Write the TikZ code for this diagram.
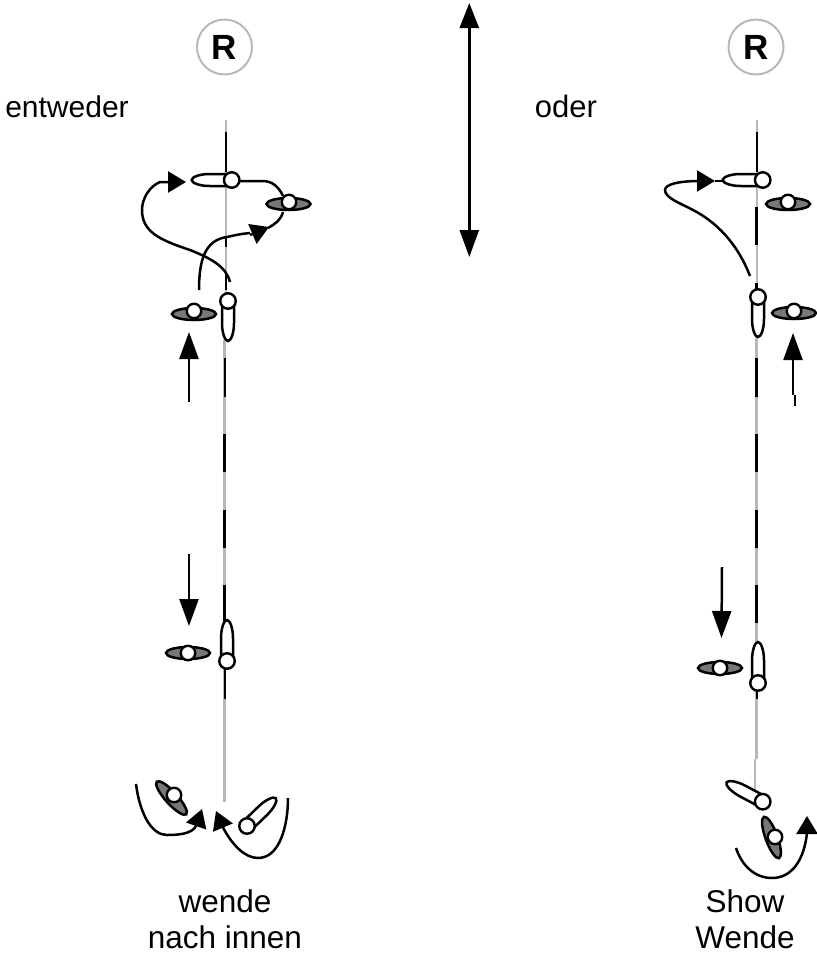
\documentclass[tikz,border=0pt]{standalone}
\usepackage{fontspec}
\setmainfont{Liberation Sans}
\usetikzlibrary{arrows.meta}
\definecolor{laneg}{gray}{0.72}
\definecolor{crewg}{gray}{0.47}
\tikzset{
  x=1pt,y=-1pt,
  ink/.style={line width=2.5pt,black},
  gray line/.style={line width=2.6pt,laneg},
  dash line/.style={line width=2.6pt,black},
  big tip/.style={ink,-{Triangle[length=27pt,width=19pt]}},
  small tip/.style={ink,-{Triangle[length=18pt,width=21pt]}},
  head/.style={circle,draw=black,fill=white,line width=2.4pt,minimum size=15.5pt,inner sep=0pt},
  mark circle/.style={circle,draw=laneg,line width=2pt,minimum size=55pt,inner sep=0pt,font=\fontsize{35}{35}\selectfont\bfseries},
  label/.style={font=\fontsize{31.5}{33}\selectfont,align=center,inner sep=0pt},
}
% #1 name, #2 head position, #3 direction, #4 length
\newcommand{\boatshape}[4]{%
  \begin{scope}[shift={#2},rotate=#3]
    \draw[ink,fill=white] (0,6) -- (#4*0.55,6) .. controls (#4*0.8,6) and (#4,3) .. (#4,0)
      .. controls (#4,-3) and (#4*0.8,-6) .. (#4*0.55,-6) -- (0,-6) -- cycle;
  \end{scope}
  \node[head] (#1) at #2 {};%
}
% #1 name, #2 hull centre, #3 direction, #4 head position
\newcommand{\crewshape}[4]{%
  \draw[ink,fill=crewg,rotate around={#3:#2}] #2 ellipse [x radius=22pt,y radius=6pt];
  \node[head,minimum size=14.5pt] (#1) at #4 {};%
}
\begin{document}
\begin{tikzpicture}
\useasboundingbox (0,0) rectangle (817,954);
% ---- centre lines
\draw[gray line] (226,120) -- (226,300);
\draw[gray line] (224.7,340) -- (224.7,640);
\draw[gray line] (224.7,660) -- (224.7,802);
\draw[dash line] (226,132) -- (226,172);
\draw[dash line] (226,237) -- (226,247);
\draw[dash line] (226,272) -- (226,290);
\draw[dash line] (225,358) -- (225,397);
\draw[dash line] (224.5,434) -- (224.5,472);
\draw[dash line] (224.5,510) -- (224.5,548);
\draw[dash line] (224.5,585) -- (224.5,625);
\draw[dash line] (225,665) -- (225,699);
\draw[gray line] (757,120) -- (757,290);
\draw[gray line] (756.5,330) -- (756.5,645);
\draw[gray line] (756.2,680) -- (756.2,759);
\draw[gray line] (755,759) -- (755,795);
\draw[dash line] (757,132) -- (757,172);
\draw[dash line] (756.5,207) -- (756.5,245);
\draw[dash line] (756.5,283) -- (756.5,292);
\draw[dash line] (756.5,358) -- (756.5,397);
\draw[dash line] (756.5,434) -- (756.5,472);
\draw[dash line] (756.5,510) -- (756.5,548);
\draw[dash line] (756.5,585) -- (756.5,623);
\draw[dash line] (757,690) -- (757,699);
% ---- marks and double arrow
\node[mark circle] (markL) at (224.5,47) {R};
\node[mark circle] (markR) at (756,47) {R};
\coordinate (axisT) at (469.3,3);
\coordinate (axisB) at (469.3,257);
\draw[ink,{Triangle[length=25pt,width=19pt]}-{Triangle[length=27pt,width=19pt]}] (axisT) -- (axisB);
% ---- labels
\node[label,anchor=base,font=\fontsize{30}{33}\selectfont] (t1) at (67,117) {entweder};
\node[label,anchor=base,font=\fontsize{31}{33}\selectfont] (t2) at (566,117) {oder};
\node[label,anchor=base] (t3) at (225,912) {wende};
\node[label,anchor=base] (t4) at (225,948) {nach innen};
\node[label,anchor=base] (t5) at (745,912) {Show};
\node[label,anchor=base] (t6) at (745,948) {Wende};
% ---- left column, top
\draw[ink] (238,181) -- (263,181) .. controls (272,181) and (279,187) .. (283,196);
\draw[ink] (283,212) .. controls (281,220) and (275,224) .. (268,228);
\crewshape{c1}{(288.5,204)}{0}{(289,202)}
\boatshape{b1}{(231.7,180)}{180}{40}
\draw[ink] (199,290) .. controls (199,260) and (205,240) .. (227,237) .. controls (236,235) and (240,234) .. (250,233);
\draw[small tip] (250,235) -- (269,227);
\draw[small tip] (230,282) .. controls (226,266) and (210,258) .. (190,250) .. controls (160,240) and (142,232) .. (142,210)
  .. controls (142,198) and (150,186) .. (160,182) -- (186,182);
\crewshape{c2}{(194,314)}{0}{(194,311)}
\boatshape{b2}{(228,301)}{-90}{40}
\coordinate (u1) at (189,402);
\coordinate (u1t) at (189,332);
\draw[big tip] (u1) -- (u1t);
\coordinate (d1) at (189,554);
\coordinate (d1t) at (189,626);
\draw[big tip] (d1) -- (d1t);
\crewshape{c3}{(188,653)}{0}{(188,653)}
\boatshape{b3}{(227,661)}{90}{41}
% ---- left column, bottom
\crewshape{c4}{(171.5,798)}{-48}{(174,795)}
\boatshape{b4}{(247,826)}{44}{40}
\draw[small tip] (136,784) .. controls (140,815) and (152,835) .. (167,835) .. controls (178,835) and (193,834) .. (196.5,825) -- (202,809);
\draw[small tip] (288,798) .. controls (288,825) and (280,858) .. (258,858) .. controls (245,858) and (232,845) .. (222.5,826.5) -- (216,811);
% ---- right column, top
\draw[ink] (715,181) -- (723,181);
\crewshape{c5}{(788,204)}{0}{(788,202)}
\boatshape{b5}{(762.7,180)}{180}{40}
\draw[small tip] (750,276) .. controls (740,250) and (722,225) .. (693,210) .. controls (680,203) and (665,198) .. (665,190)
  .. controls (665,184) and (680,181) .. (700,181) -- (715,181);
\crewshape{c6}{(794,313)}{0}{(794,311)}
\boatshape{b6}{(758,297)}{-90}{40}
\draw[ink] (795,406) -- (795,395);
\coordinate (u2) at (793,395);
\coordinate (u2t) at (793,333);
\draw[big tip] (u2) -- (u2t);
\coordinate (d2) at (722,567);
\coordinate (d2t) at (721.5,638);
\draw[big tip] (d2) -- (d2t);
\crewshape{c7}{(720,668)}{0}{(720,668)}
\boatshape{b7}{(758,683)}{90}{41}
% ---- right column, bottom
\boatshape{b8}{(762.7,801.7)}{152}{41}
\crewshape{c8}{(771.5,837.5)}{-70}{(775,837)}
\draw[small tip] (736,848) .. controls (742,866) and (755,878) .. (772,878) .. controls (792,878) and (804,860) .. (807,833) -- (807,816);
\end{tikzpicture}
\end{document}
